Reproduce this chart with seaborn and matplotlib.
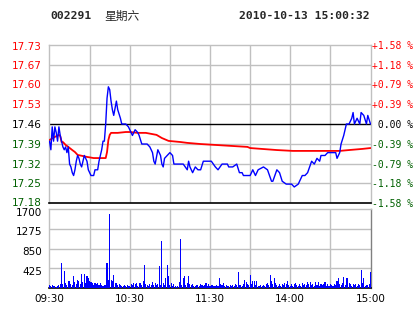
import matplotlib
matplotlib.use("Agg")
import matplotlib.pyplot as plt
import matplotlib.transforms as mtransforms
import seaborn as sns
import pandas as pd

# ---------------- data ----------------
code = "002291"
weekday = "星期六"
stamp = "2010-10-13 15:00:32"
prev_close = 17.46
price_step = 0.069

price_tick_labels = ["17.18", "17.25", "17.32", "17.39", "17.46",
                     "17.53", "17.60", "17.67", "17.73"]
pct_tick_labels = ["-1.58 %", "-1.18 %", "-0.79 %", "-0.39 %", " 0.00 %",
                   "+0.39 %", "+0.79 %", "+1.18 %", "+1.58 %"]
time_tick_minutes = [0, 60, 120, 180, 240]
time_tick_labels = ["09:30", "10:30", "11:30", "14:00", "15:00"]
vol_ticks = [425, 850, 1275, 1700]
vol_tick_labels = ["425", "850", "1275", "1700"]

price_min = [0, 1, 2, 3, 4, 5, 6, 7, 8, 9, 10, 11, 12, 13, 14, 15, 16, 17, 18, 19,
             20, 21, 22, 23, 24, 25, 26, 28, 29, 30, 31, 33, 34, 36, 37, 38, 39, 40,
             41, 42, 43, 44, 45, 46, 47, 48, 50, 51, 53, 54, 56, 57, 59, 60, 62, 63,
             64, 66, 67, 69, 73, 75, 77, 78, 79, 81, 83, 84, 85, 86, 88, 90, 92, 93,
             95, 98, 100, 103, 104, 105, 107, 109, 111, 113, 115, 121, 124, 126, 129,
             133, 134, 137, 140, 142, 144, 145, 148, 150, 152, 154, 156, 160, 163,
             166, 167, 170, 172, 174, 177, 181, 183, 186, 189, 191, 193, 196, 198,
             200, 202, 203, 206, 208, 211, 214, 215, 217, 218, 220, 222, 224, 226,
             227, 228, 230, 232, 233, 235, 237, 238, 240]
price_val = [17.40, 17.37, 17.45, 17.40, 17.45, 17.43, 17.40, 17.45, 17.42, 17.40,
             17.38, 17.37, 17.38, 17.36, 17.38, 17.32, 17.31, 17.29, 17.28, 17.30,
             17.33, 17.35, 17.34, 17.32, 17.31, 17.33, 17.35, 17.33, 17.30, 17.29,
             17.28, 17.28, 17.30, 17.30, 17.33, 17.35, 17.37, 17.40, 17.40, 17.46,
             17.55, 17.59, 17.58, 17.54, 17.51, 17.49, 17.54, 17.51, 17.48, 17.46,
             17.46, 17.46, 17.45, 17.44, 17.42, 17.43, 17.44, 17.43, 17.42, 17.39,
             17.39, 17.38, 17.36, 17.33, 17.32, 17.37, 17.35, 17.32, 17.31, 17.34,
             17.35, 17.36, 17.35, 17.32, 17.32, 17.32, 17.32, 17.30, 17.33, 17.31,
             17.29, 17.31, 17.30, 17.30, 17.33, 17.33, 17.31, 17.30, 17.32, 17.32,
             17.31, 17.31, 17.32, 17.29, 17.29, 17.28, 17.28, 17.28, 17.30, 17.28,
             17.30, 17.31, 17.30, 17.26, 17.26, 17.30, 17.29, 17.26, 17.25, 17.25,
             17.24, 17.25, 17.28, 17.28, 17.29, 17.33, 17.32, 17.34, 17.33, 17.35,
             17.35, 17.36, 17.36, 17.36, 17.34, 17.36, 17.39, 17.42, 17.46, 17.46,
             17.48, 17.50, 17.46, 17.48, 17.46, 17.50, 17.49, 17.46, 17.49, 17.46]

avg_min = [0, 4, 7, 8, 9, 10, 12, 14, 17, 19, 21, 28, 33, 42, 43, 44, 45, 46, 51,
           57, 60, 66, 72, 80, 84, 89, 98, 103, 113, 148, 150, 170, 182, 217, 224,
           234, 240]
avg_val = [17.404, 17.415, 17.422, 17.418, 17.397, 17.397, 17.387, 17.380, 17.369,
           17.362, 17.352, 17.345, 17.341, 17.341, 17.362, 17.404, 17.422, 17.429,
           17.429, 17.432, 17.432, 17.429, 17.429, 17.422, 17.411, 17.401, 17.397,
           17.394, 17.390, 17.380, 17.376, 17.369, 17.366, 17.366, 17.369, 17.373,
           17.376]

volume = [60, 50, 70, 40, 50, 30, 40, 60, 80, 540, 90, 360, 100, 60, 160, 160, 90, 70, 260, 120,
          90, 180, 160, 80, 300, 120, 300, 100, 260, 220, 140, 135, 110, 60, 110, 80, 110, 60, 110, 70,
          50, 60, 60, 540, 180, 1600, 180, 150, 290, 100, 110, 60, 90, 70, 40, 50, 60, 50, 60, 40,
          50, 80, 60, 110, 90, 110, 50, 110, 110, 60, 140, 500, 80, 60, 40, 90, 60, 130, 60, 110,
          60, 90, 480, 60, 1010, 110, 70, 210, 500, 250, 60, 110, 40, 90, 40, 30, 40, 130, 1060, 60,
          210, 260, 60, 110, 260, 90, 60, 90, 50, 40, 60, 70, 40, 80, 60, 50, 70, 110, 40, 90,
          50, 60, 60, 40, 50, 60, 40, 210, 80, 60, 110, 50, 70, 40, 50, 60, 50, 60, 40, 90,
          60, 340, 60, 70, 40, 80, 180, 130, 90, 60, 290, 80, 150, 160, 60, 160, 50, 40, 60, 50,
          70, 40, 80, 110, 60, 280, 160, 90, 210, 110, 60, 40, 90, 50, 90, 60, 110, 90, 160, 60,
          50, 80, 40, 90, 110, 60, 50, 80, 40, 110, 60, 90, 60, 130, 80, 130, 60, 90, 40, 130,
          60, 130, 50, 90, 60, 90, 130, 50, 90, 40, 90, 60, 40, 90, 60, 160, 220, 90, 60, 110,
          240, 60, 210, 210, 110, 90, 50, 90, 60, 90, 40, 90, 60, 380, 110, 210, 40, 60, 60, 90,
          340]
vol_min = list(range(len(volume)))

# ---------------- styling ----------------
sns.set_style("white")
plt.rcParams["font.family"] = ["DejaVu Sans", "Noto Sans CJK SC"]

GRID = "#c0c0c0"
RED = "#ff0000"
GREEN = "#006000"
BLUE = "#0000ff"

fig = plt.figure(figsize=(4.14, 3.14), dpi=100)
fig.patch.set_facecolor("white")
W, H = 414, 314
ax = fig.add_axes([49 / W, 1 - 203 / H, 322 / W, 158 / H])
axv = fig.add_axes([49 / W, 1 - 288 / H, 322 / W, 79 / H])


def shift(label, dy_px):
    label.set_transform(label.get_transform() +
                        mtransforms.ScaledTranslation(0, dy_px / 100, fig.dpi_scale_trans))


xlim = (-0.4, 240.4)
half = 4 * price_step
ylim = (prev_close - half, prev_close + half)
price_ticks = [prev_close + k * price_step for k in range(-4, 5)]

# grid lines
for m in range(30, 240, 30):
    ax.axvline(m, color=GRID, lw=1.0, zorder=0)
    axv.axvline(m, color=GRID, lw=1.0, zorder=0)
for t in price_ticks[1:-1]:
    if abs(t - prev_close) > 1e-9:
        ax.axhline(t, color=GRID, lw=1.0, zorder=0)
for t in vol_ticks[:-1]:
    axv.axhline(t, color=GRID, lw=1.0, zorder=0)
ax.axhline(prev_close, color="black", lw=1.0, zorder=1)

# lines
sns.lineplot(x=avg_min, y=avg_val, ax=ax, color=RED, lw=1.3, zorder=3)
sns.lineplot(x=price_min, y=price_val, ax=ax, color=BLUE, lw=1.0, zorder=4)

ax.set_xlim(*xlim)
ax.set_ylim(*ylim)
ax.set_xticks([])
ax.set_xlabel("")
ax.set_ylabel("")
ax.set_yticks(price_ticks)
ax.set_yticklabels(price_tick_labels)
ax.tick_params(axis="y", length=0, pad=5, labelsize=7.5)
ylabs = ax.get_yticklabels()
for lab, t in zip(ylabs, price_ticks):
    if t > prev_close + 1e-9:
        lab.set_color(RED)
    elif t < prev_close - 1e-9:
        lab.set_color(GREEN)
    else:
        lab.set_color("black")
shift(ylabs[0], 1.5)
shift(ylabs[-1], -1.5)
for s in ["left", "top", "right"]:
    ax.spines[s].set_color(GRID)
    ax.spines[s].set_linewidth(1.0)
ax.spines["bottom"].set_color("black")
ax.spines["bottom"].set_linewidth(1.2)

# right percent axis
ax2 = ax.twinx()
ax2.set_ylim(*ylim)
ax2.set_yticks(price_ticks)
ax2.set_yticklabels(pct_tick_labels, family="DejaVu Sans Mono")
ax2.tick_params(axis="y", length=0, pad=1, labelsize=7)
for lab, t in zip(ax2.get_yticklabels(), price_ticks):
    if t > prev_close + 1e-9:
        lab.set_color(RED)
    elif t < prev_close - 1e-9:
        lab.set_color(GREEN)
    else:
        lab.set_color("black")
for s in ax2.spines.values():
    s.set_visible(False)

# volume
vdf = pd.DataFrame({"minute": vol_min, "volume": volume})
sns.barplot(data=vdf, x="minute", y="volume", native_scale=True, width=0.8,
            color=BLUE, saturation=1, linewidth=0, errorbar=None, ax=axv, zorder=3)
for p in axv.patches:
    p.set_antialiased(False)
axv.set_xlim(*xlim)
axv.set_ylim(0, 1700)
axv.set_xlabel("")
axv.set_ylabel("")
axv.set_yticks(vol_ticks)
axv.set_yticklabels(vol_tick_labels)
axv.set_xticks(time_tick_minutes)
axv.set_xticklabels(time_tick_labels)
axv.tick_params(axis="both", length=0, labelsize=7.5, colors="black")
axv.tick_params(axis="y", pad=5)
axv.tick_params(axis="x", pad=4)
for lab in axv.get_yticklabels():
    shift(lab, -2.5)
for s in ["left", "top"]:
    axv.spines[s].set_color(GRID)
    axv.spines[s].set_linewidth(1.0)
axv.spines["right"].set_color("#808080")
axv.spines["right"].set_linewidth(1.0)
axv.spines["bottom"].set_color("black")
axv.spines["bottom"].set_linewidth(1.2)

# header
ty = 1 - 16 / H
fig.text(50 / W, ty, code, family="DejaVu Sans Mono", weight="bold", fontsize=8.2,
         va="center", ha="left")
fig.text(104 / W, ty, weekday, family=["Noto Sans CJK SC", "DejaVu Sans"], fontsize=8.5,
         va="center", ha="left")
fig.text(370 / W, ty, stamp, family="DejaVu Sans Mono", weight="bold", fontsize=8.2,
         va="center", ha="right")

fig.savefig("out.png", dpi=100, facecolor="white")
